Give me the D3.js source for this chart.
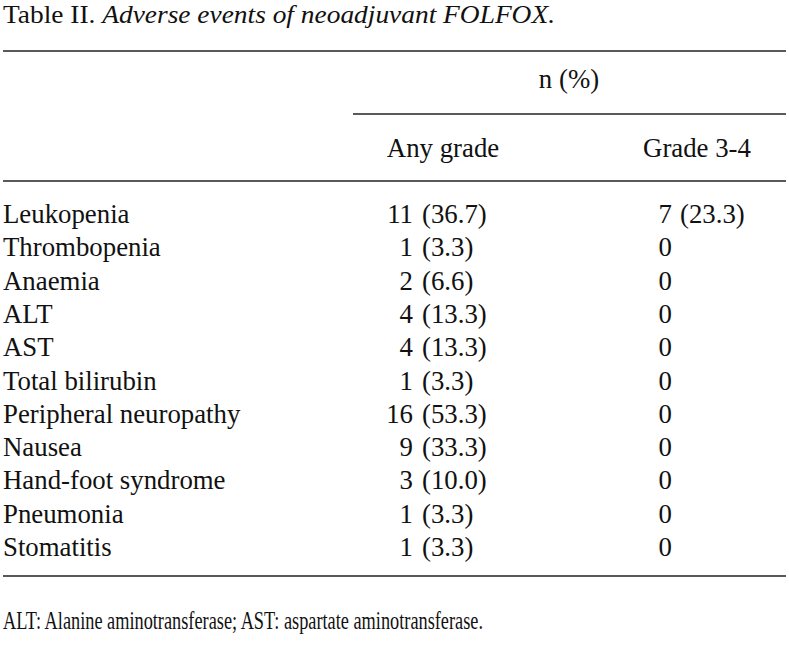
<!DOCTYPE html>
<html><head><meta charset="utf-8">
<script src="https://cdn.jsdelivr.net/npm/d3@7"></script>
<style>body{margin:0;background:#fff}svg{display:block}text{font-family:"Liberation Serif","Times New Roman",serif;fill:#111}</style>
</head><body><svg id="c" width="789" height="646"></svg>
<script>
const categories = ["Leukopenia","Thrombopenia","Anaemia","ALT","AST","Total bilirubin","Peripheral neuropathy","Nausea","Hand-foot syndrome","Pneumonia","Stomatitis"];
const anyGradeN = [11,1,2,4,4,1,16,9,3,1,1];
const anyGradePct = ["36.7","3.3","6.6","13.3","13.3","3.3","53.3","33.3","10.0","3.3","3.3"];
const grade34N = [7,0,0,0,0,0,0,0,0,0,0];
const grade34Pct = ["23.3",null,null,null,null,null,null,null,null,null,null];
const columnHeaders = ["Any grade","Grade 3-4"];
const spanHeader = "n (%)";
const titleLabel = "Table II.";
const titleItalic = "Adverse events of neoadjuvant FOLFOX.";
const footnote = "ALT: Alanine aminotransferase; AST: aspartate aminotransferase.";

const svg = d3.select("#c");
const fs = 26.8;
const y = d3.scalePoint().domain(categories).range([223, 556]);
const colX = d3.scaleOrdinal().domain(columnHeaders).range([443, 697]);
const numEnd = d3.scaleOrdinal().domain(columnHeaders).range([413, 672]);
const pctStart = d3.scaleOrdinal().domain(columnHeaders).range([422, 680]);

// title
const t = svg.append("text").attr("x",3).attr("y",23).attr("font-size",26);
t.append("tspan").text(titleLabel + " ");
t.append("tspan").attr("font-style","italic").text(titleItalic);
t.attr("textLength",552).attr("lengthAdjust","spacingAndGlyphs");

const line = (x1,x2,yy)=>svg.append("line").attr("x1",x1).attr("x2",x2).attr("y1",yy).attr("y2",yy).attr("stroke","#222").attr("stroke-width",1.6);
line(3,786,51); line(353,786,114); line(3,786,181); line(3,786,576);

svg.append("text").attr("x",569).attr("y",88).attr("text-anchor","middle").attr("font-size",fs).text(spanHeader);
svg.selectAll(".ch").data(columnHeaders).join("text").attr("x",d=>colX(d)).attr("y",157).attr("text-anchor","middle").attr("font-size",fs).text(d=>d);

svg.selectAll(".lab").data(categories).join("text").attr("x",3).attr("y",d=>y(d)).attr("font-size",fs).text(d=>d);

categories.forEach((c,i)=>{
  [[columnHeaders[0],anyGradeN[i],anyGradePct[i]],[columnHeaders[1],grade34N[i],grade34Pct[i]]].forEach(([col,n,p])=>{
    svg.append("text").attr("x",numEnd(col)).attr("y",y(c)).attr("text-anchor","end").attr("font-size",fs).text(n);
    if(p!==null) svg.append("text").attr("x",pctStart(col)).attr("y",y(c)).attr("font-size",fs).text("("+p+")");
  });
});

svg.append("text").attr("x",3).attr("y",629).attr("font-size",26).attr("textLength",480).attr("lengthAdjust","spacingAndGlyphs").text(footnote);
</script></body></html>
